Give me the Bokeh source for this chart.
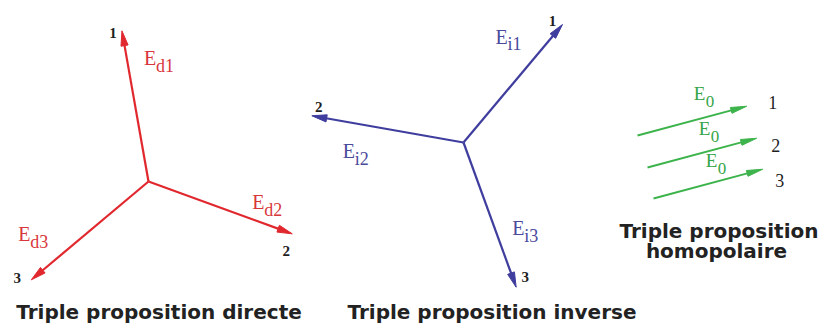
import numpy as np
from bokeh.plotting import figure
from bokeh.models import Range1d
from bokeh.embed import file_html
from bokeh.resources import INLINE
from bokeh.core.properties import value

# ---------------- data ----------------
direct_angles = [100, -20, -140]      # degrees
direct_mags = [1.0, 1.0, 1.0]
direct_subs = ["d1", "d2", "d3"]

inverse_angles = [50, 170, -70]
inverse_mags = [1.0, 1.0, 1.0]
inverse_subs = ["i1", "i2", "i3"]

zero_angles = [15, 15, 15]
zero_mags = [1.0, 1.0, 1.0]
zero_subs = ["0", "0", "0"]

phase_labels = ["1", "2", "3"]
title_direct = "Triple proposition directe"
title_inverse = "Triple proposition inverse"
title_zero = ["Triple proposition", "homopolaire"]

# ---------------- layout / style ----------------
W, H = 823, 324
RED, RED_T = "#e0282e", "#d8363b"
BLUE, BLUE_T = "#3f3d9d", "#4a4a9c"
GREEN, GREEN_T = "#3cb34b", "#36a548"
SERIF = "Liberation Serif"
SANS = "DejaVu Sans"
MID = 0.34   # baseline -> middle shift, in em

O_DIRECT, S_DIRECT = (148, -181), 153
O_INVERSE, S_INVERSE = (463, -142), 154
O_ZERO, S_ZERO = [(637, -135), (647, -167), (653, -198)], 113

# label offsets (data units == pixels, y up); E offsets are to the E baseline-left
E_OFF_D = [(22, -34), (-40, 25), (-13, 39)]
N_OFF_D = [(-9, -2), (-6, -17), (-14, 2)]
E_OFF_I = [(-67, -19), (31, -42), (-4, 52)]
N_OFF_I = [(-10, 4), (7, 9), (9, 10)]
E_OFF_Z = [(-53, 6), (-58, 3), (-57, 2)]
N_OFF_Z = [(26, 4), (19, -7), (17, -11)]

p = figure(width=W, height=H, x_range=Range1d(0, W), y_range=Range1d(-H, 0),
           output_backend="svg", toolbar_location=None, min_border=0,
           x_axis_type=None, y_axis_type=None)
p.grid.visible = False
p.outline_line_color = None
p.background_fill_color = "white"
p.border_fill_color = "white"


def draw_set(origins, angles, mags, scale, color, tcolor, subs, e_off, n_off,
             head_len=15, head_w=3.6, lw=2.2, e_size=20, s_size=18,
             n_size=15, n_style="bold"):
    x0s, y0s, x1s, y1s, hx, hy = [], [], [], [], [], []
    tips = []
    for (ox, oy), a, m in zip(origins, angles, mags):
        r = np.deg2rad(a)
        ux, uy = np.cos(r), np.sin(r)
        tx, ty = ox + m * scale * ux, oy + m * scale * uy
        tips.append((tx, ty))
        bx, by = tx - head_len * ux, ty - head_len * uy
        x0s.append(ox); y0s.append(oy); x1s.append(bx + 2 * ux); y1s.append(by + 2 * uy)
        nx, ny = -uy, ux
        hx.append([tx, bx + head_w * nx, bx - head_w * nx])
        hy.append([ty, by + head_w * ny, by - head_w * ny])
    p.segment(x0s, y0s, x1s, y1s, line_color=color, line_width=lw)
    p.patches(hx, hy, fill_color=color, line_color=color, line_width=1)
    ex = [t[0] + o[0] for t, o in zip(tips, e_off)]
    ey = [t[1] + o[1] for t, o in zip(tips, e_off)]
    p.text(ex, [y + MID * e_size for y in ey], text=["E"] * len(ex), text_color=tcolor,
           text_font=value(SERIF), text_font_size=f"{e_size}px",
           text_align="left", text_baseline="middle")
    p.text([x + 12 for x in ex], [y - 7 + MID * s_size for y in ey], text=subs,
           text_color=tcolor, text_font=value(SERIF), text_font_size=f"{s_size}px",
           text_align="left", text_baseline="middle")
    nx_ = [t[0] + o[0] for t, o in zip(tips, n_off)]
    ny_ = [t[1] + o[1] for t, o in zip(tips, n_off)]
    p.text(nx_, ny_, text=phase_labels, text_color="#1e1e1e",
           text_font=value(SERIF), text_font_size=f"{n_size}px", text_font_style=n_style,
           text_align="center", text_baseline="middle")


draw_set([O_DIRECT] * 3, direct_angles, direct_mags, S_DIRECT, RED, RED_T,
         direct_subs, E_OFF_D, N_OFF_D)
draw_set([O_INVERSE] * 3, inverse_angles, inverse_mags, S_INVERSE, BLUE, BLUE_T,
         inverse_subs, E_OFF_I, N_OFF_I)
draw_set(O_ZERO, zero_angles, zero_mags, S_ZERO, GREEN, GREEN_T,
         zero_subs, E_OFF_Z, N_OFF_Z, head_len=16, head_w=3.0, lw=2.0, e_size=19, s_size=17,
         n_size=18, n_style="normal")

title_base = [-318, -318, -237, -257]
p.text([158.5, 491.5, 718.5, 716], [b + MID * 20 for b in title_base],
       text=[title_direct, title_inverse] + title_zero,
       text_color="#222222", text_font=value(SANS), text_font_size="20px",
       text_font_style="bold", text_align="center", text_baseline="middle")

open("out.html", "w").write(file_html(p, INLINE))
